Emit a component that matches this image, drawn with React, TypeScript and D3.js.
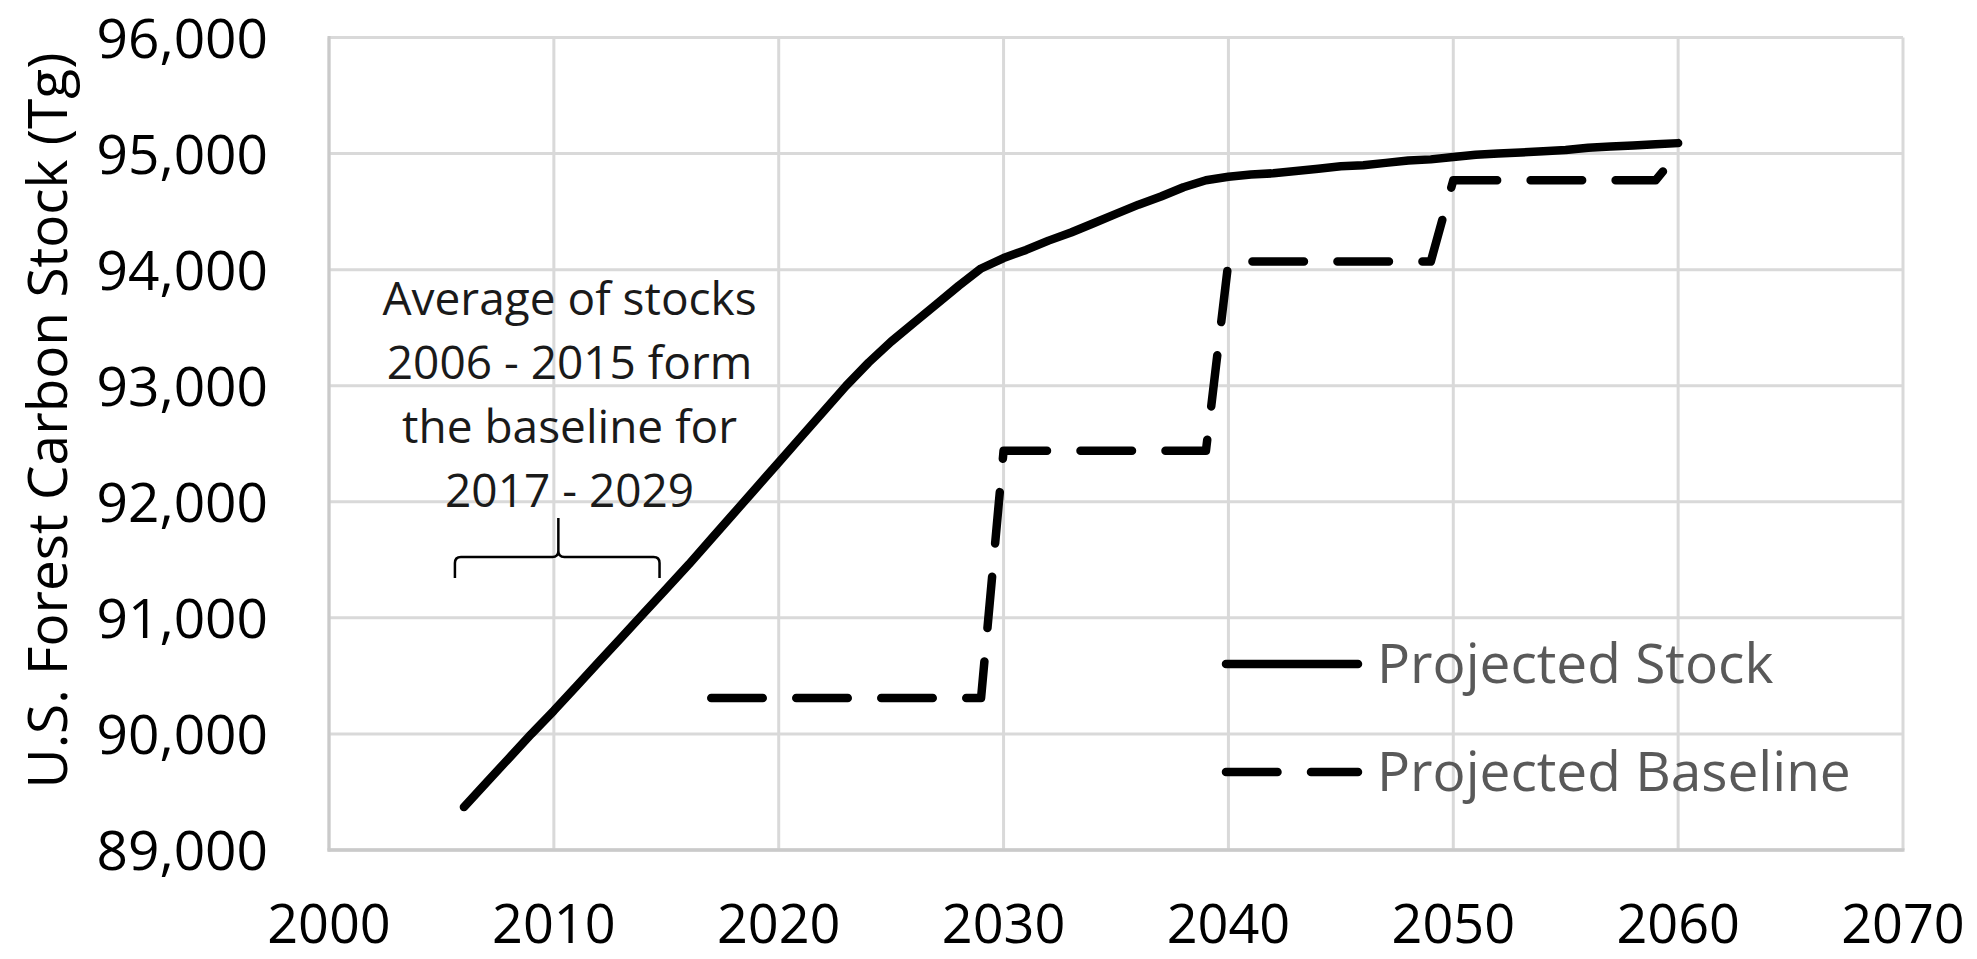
import React from "react";
import * as d3 from "d3";

// ---- data ----
const stockYears = [
  2006, 2007, 2008, 2009, 2010, 2011, 2012, 2013, 2014, 2015, 2016, 2017, 2018, 2019,
  2020, 2021, 2022, 2023, 2024, 2025, 2026, 2027, 2028, 2029, 2030, 2031, 2032, 2033,
  2034, 2035, 2036, 2037, 2038, 2039, 2040, 2041, 2042, 2043, 2044, 2045, 2046, 2047,
  2048, 2049, 2050, 2051, 2052, 2053, 2054, 2055, 2056, 2057, 2058, 2059, 2060,
];
const stockValues = [
  89370, 89580, 89790, 90000, 90200, 90410, 90620, 90830, 91040, 91250, 91460, 91680, 91900, 92120,
  92340, 92560, 92780, 93000, 93200, 93380, 93540, 93700, 93860, 94010, 94100, 94170, 94250, 94320,
  94400, 94480, 94560, 94630, 94710, 94770, 94800, 94820, 94830, 94850, 94870, 94890, 94900, 94920,
  94940, 94950, 94970, 94990, 95000, 95010, 95020, 95030, 95050, 95060, 95070, 95080, 95090,
];
const baselineYears = [
  2017, 2018, 2019, 2020, 2021, 2022, 2023, 2024, 2025, 2026, 2027, 2028, 2029,
  2030, 2031, 2032, 2033, 2034, 2035, 2036, 2037, 2038, 2039,
  2040, 2041, 2042, 2043, 2044, 2045, 2046, 2047, 2048, 2049,
  2050, 2051, 2052, 2053, 2054, 2055, 2056, 2057, 2058, 2059, 2060,
];
const baselineValues = [
  90310, 90310, 90310, 90310, 90310, 90310, 90310, 90310, 90310, 90310, 90310, 90310, 90310,
  92440, 92440, 92440, 92440, 92440, 92440, 92440, 92440, 92440, 92440,
  94070, 94070, 94070, 94070, 94070, 94070, 94070, 94070, 94070, 94070,
  94770, 94770, 94770, 94770, 94770, 94770, 94770, 94770, 94770, 94770, 95005,
];
const xTicks = [2000, 2010, 2020, 2030, 2040, 2050, 2060, 2070];
const yTicks = [89000, 90000, 91000, 92000, 93000, 94000, 95000, 96000];
const seriesNames = ["Projected Stock", "Projected Baseline"];
const yAxisTitle = "U.S. Forest Carbon Stock (Tg)";
const annotationLines = ["Average of stocks", "2006 - 2015 form", "the baseline for", "2017 - 2029"];
// annotation anchor (data units): text centre year / first baseline value; brace years & values
const annotationX = 2010.7;
const annotationY = 93609;
const braceFrom = 2005.6;
const braceTo = 2014.7;
const braceMid = 2010.2;
const braceTop = 91524;
const braceLegBottom = 91343;
const braceTickTop = 91860;

const FONT = "'Open Sans', 'Liberation Sans', sans-serif";

export default function App() {
  const W = 1977;
  const H = 959;
  const x = d3.scaleLinear().domain([2000, 2070]).range([329, 1903]);
  const y = d3.scaleLinear().domain([89000, 96000]).range([850, 37.5]);

  const line = d3
    .line<[number, number]>()
    .x((d) => x(d[0]))
    .y((d) => y(d[1]));

  const stockPts = stockYears.map((yr, i) => [yr, stockValues[i]] as [number, number]);
  const basePts = baselineYears.map((yr, i) => [yr, baselineValues[i]] as [number, number]);

  const fmt = d3.format(",");
  const dash = "51.5 33.5";
  const sw = 8.5;

  // brace path
  const bx0 = x(braceFrom);
  const bx1 = x(braceTo);
  const bxm = x(braceMid);
  const byT = y(braceTop);
  const byB = y(braceLegBottom);
  const byK = y(braceTickTop);
  const r = 6;
  const bracePath = [
    `M${bx0},${byB}`,
    `L${bx0},${byT + r}`,
    `Q${bx0},${byT} ${bx0 + r},${byT}`,
    `L${bxm - r},${byT}`,
    `Q${bxm},${byT} ${bxm},${byT - r}`,
    `L${bxm},${byK}`,
    `M${bxm},${byT - r}`,
    `Q${bxm},${byT} ${bxm + r},${byT}`,
    `L${bx1 - r},${byT}`,
    `Q${bx1},${byT} ${bx1},${byT + r}`,
    `L${bx1},${byB}`,
  ].join(" ");

  const legX0 = 1226;
  const legX1 = 1358;
  const legRows = [664, 772];

  return (
    <svg
      width={W}
      height={H}
      style={{ position: "absolute", left: 0, top: 0, background: "#fff" }}
      fontFamily={FONT}
    >
      <rect x={0} y={0} width={W} height={H} fill="#fff" />
      {/* grid */}
      {xTicks.map((t) => (
        <line key={"gx" + t} x1={x(t)} x2={x(t)} y1={y(96000)} y2={y(89000)} stroke="#d9d9d9" strokeWidth={3} />
      ))}
      {yTicks.map((t) => (
        <line key={"gy" + t} x1={x(2000)} x2={x(2070)} y1={y(t)} y2={y(t)} stroke="#d9d9d9" strokeWidth={3} />
      ))}
      {/* axes */}
      <line x1={x(2000)} x2={x(2000)} y1={y(96000) - 1.5} y2={y(89000) + 1.5} stroke="#cacaca" strokeWidth={3} />
      <line x1={x(2000) - 1.5} x2={x(2070) + 1.5} y1={y(89000)} y2={y(89000)} stroke="#cacaca" strokeWidth={3.5} />

      {/* y tick labels */}
      {yTicks.map((t) => (
        <text key={"ly" + t} x={268} y={y(t) + 20} textAnchor="end" fontSize={55} fill="#000">
          {fmt(t)}
        </text>
      ))}
      {/* x tick labels */}
      {xTicks.map((t) => (
        <text key={"lx" + t} x={x(t)} y={943} textAnchor="middle" fontSize={54} fill="#000">
          {t}
        </text>
      ))}
      {/* y axis title */}
      <text
        transform={`translate(67, ${y(92700)}) rotate(-90)`}
        textAnchor="middle"
        fontSize={55}
        fill="#000"
      >
        {yAxisTitle}
      </text>

      {/* series */}
      <path d={line(basePts) || ""} fill="none" stroke="#000" strokeWidth={sw} strokeDasharray={dash} strokeLinecap="round" strokeLinejoin="round" />
      <path d={line(stockPts) || ""} fill="none" stroke="#000" strokeWidth={sw} strokeLinecap="round" strokeLinejoin="round" />

      {/* annotation */}
      {annotationLines.map((s, i) => (
        <text key={"an" + i} x={x(annotationX)} y={y(annotationY) + i * 64} textAnchor="middle" fontSize={46} fill="#1a1a1a">
          {s}
        </text>
      ))}
      <path d={bracePath} fill="none" stroke="#000" strokeWidth={2.5} />

      {/* legend */}
      {seriesNames.map((name, i) => (
        <g key={name}>
          <line
            x1={legX0}
            x2={legX1}
            y1={legRows[i]}
            y2={legRows[i]}
            stroke="#000"
            strokeWidth={sw}
            strokeLinecap="round"
            strokeDasharray={i === 1 ? dash : undefined}
          />
          <text x={1377} y={legRows[i] + 19} fontSize={55} fill="#595959">
            {name}
          </text>
        </g>
      ))}
    </svg>
  );
}
